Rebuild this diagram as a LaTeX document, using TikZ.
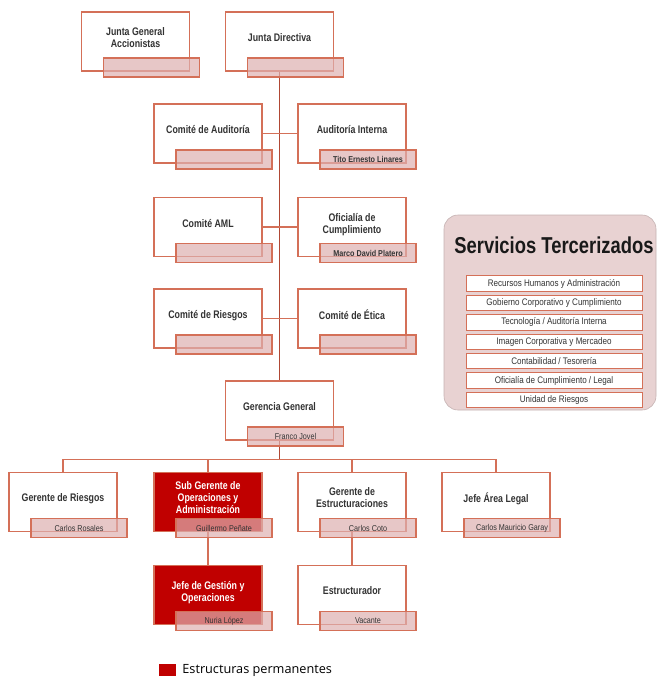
\documentclass[tikz,border=0pt]{standalone}
\usepackage{fontspec}
\setmainfont{Liberation Sans}
\newfontfamily\condfont[FakeStretch=0.8]{Liberation Sans}
\newfontfamily\tagfont[FakeStretch=0.85]{Liberation Sans}
\newfontfamily\legendfont{Open Sans}
\usetikzlibrary{positioning}
\definecolor{orgline}{RGB}{212,112,88}
\definecolor{mainline}{RGB}{176,72,52}
\definecolor{tagfill}{RGB}{222,176,176}
\definecolor{permred}{RGB}{192,0,0}
\definecolor{svcfill}{RGB}{232,210,210}
\tikzset{
  unit/.style={
    % The shape:
    rectangle,
    % The size:
    minimum width=108pt,minimum height=59pt,
    % The border:
    draw=orgline,line width=1.2pt,
    % The filling:
    fill=white,
    font=\condfont\bfseries\fontsize{11}{12}\selectfont,
    text=black!80,align=center,
    % lift the text a little above the middle
    execute at end node={\rule[-8pt]{0pt}{8pt}}},
  permanent/.style={
    unit,fill=permred,text=white},
  tag/.style={
    % The shape:
    rectangle,
    minimum width=96pt,minimum height=19pt,inner sep=0pt,
    % The rest
    draw=orgline,line width=1.2pt,
    fill=tagfill,fill opacity=0.7,text opacity=1,
    font=\tagfont\fontsize{8.5}{9}\selectfont,text=black!80},
  conn/.style={draw=orgline,line width=1.2pt},
  spine/.style={draw=mainline,line width=1.6pt},
  service/.style={
    rectangle,
    minimum width=176pt,minimum height=15.5pt,inner sep=0pt,
    draw=orgline,line width=0.9pt,fill=white,
    font=\tagfont\fontsize{9.5}{10}\selectfont,text=black!80}
}

\begin{document}
\begin{tikzpicture}[x=1pt,y=-1pt]
  \useasboundingbox (0,0) rectangle (658,677);

  % governing bodies
  \node (jga) [unit] at (135.5,41.5) {Junta General\\Accionistas};
  \node (jd)  [unit] at (279.5,41.5) {Junta Directiva};

  % committees
  \node (ca)  [unit] at (208,133.5) {Comité de Auditoría};
  \node (ai)  [unit] at (352,133.5) {Auditoría Interna};
  \node (aml) [unit] at (208,227)   {Comité AML};
  \node (oc)  [unit] at (352,227)   {Oficialía de\\Cumplimiento};
  \node (cr)  [unit] at (208,318.5) {Comité de Riesgos};
  \node (ce)  [unit] at (352,318.5) {Comité de Ética};

  % management
  \node (gg)  [unit] at (279.5,410.5) {Gerencia General};
  \node (gr)  [unit]      at (63,502)  {Gerente de Riesgos};
  \node (sg)  [permanent] at (208,502) {Sub Gerente de\\Operaciones y\\Administración};
  \node (ge)  [unit]      at (352,502) {Gerente de\\Estructuraciones};
  \node (jal) [unit]      at (496,502) {Jefe Área Legal};
  \node (jgo) [permanent] at (208,595) {Jefe de Gestión y\\Operaciones};
  \node (es)  [unit]      at (352,595) {Estructurador};

  % connectors
  \draw[spine] (jd.south) -- (gg.north);
  \draw[conn] (ca.east) -- (ai.west);
  \draw[conn] (aml.east) -- (oc.west);
  \draw[conn] (cr.east) -- (ce.west);
  \coordinate (bus) at ([yshift=-19pt]gg.south);
  \draw[spine] (gg.south) -- (bus);
  \draw[conn] (gr.north) |- (bus) -| (jal.north);
  \draw[conn] (sg.north) -- (sg.north |- bus);
  \draw[conn] (ge.north) -- (ge.north |- bus);
  \draw[conn] (sg.south) -- (jgo.north);
  \draw[conn] (ge.south) -- (es.north);

  % name tags
  \foreach \n/\t in {jga/{},jd/{},ca/{},ai/{\bfseries Tito Ernesto Linares},
                     aml/{},oc/{\bfseries Marco David Platero},cr/{},ce/{},
                     gg/{Franco Jovel},gr/{Carlos Rosales},sg/{Guillermo Peñate},
                     ge/{Carlos Coto},jal/{Carlos Mauricio Garay},
                     jgo/{Nuria López},es/{Vacante}}
    \node (\n t) [tag,anchor=south west] at ([shift={(22pt,-6pt)}]\n.south west) {\t};

  % outsourced services
  \node (svc) [rectangle,rounded corners=14pt,fill=svcfill,draw=svcfill!85!black,
               line width=0.6pt,minimum width=212pt,minimum height=195pt] at (550,312.5) {};
  \node (svctitle) [font=\condfont\bfseries\fontsize{23}{26}\selectfont,text=black!90]
        at (554,245) {Servicios Tercerizados};
  \node (s1) [service] at (554,283.5) {Recursos Humanos y Administración};
  \foreach \t [count=\i from 2, evaluate=\i as \p using int(\i-1)] in
      {Gobierno Corporativo y Cumplimiento,Tecnología / Auditoría Interna,
       Imagen Corporativa y Mercadeo,Contabilidad / Tesorería,
       Oficialía de Cumplimiento / Legal,Unidad de Riesgos}
    \node (s\i) [service,below=3pt of s\p] {\t};

  % legend
  \node (key) [rectangle,fill=permred,minimum width=17pt,minimum height=12pt,inner sep=0pt]
        at (167.5,670) {};
  \node (keytext) [right=6pt of key,inner sep=0pt,font=\legendfont\fontsize{12.7}{14}\selectfont]
        {Estructuras permanentes};
\end{tikzpicture}
\end{document}
